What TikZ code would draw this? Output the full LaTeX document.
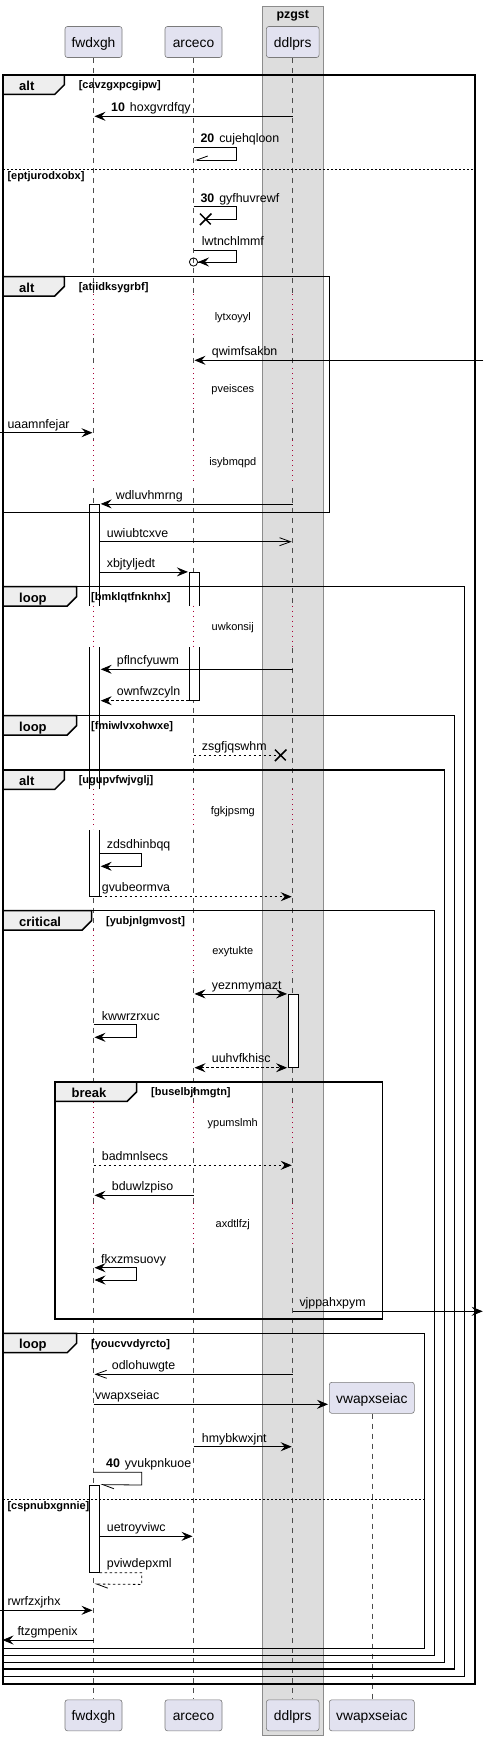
\documentclass[tikz,border=0pt]{standalone}
\usepackage{fontspec}
\setmainfont{Liberation Sans}
\usetikzlibrary{arrows.meta,shapes.misc}

\definecolor{partfill}{HTML}{E2E2F0}
\definecolor{partline}{HTML}{7A7A7A}
\definecolor{boxfill}{HTML}{DDDDDD}
\definecolor{boxline}{HTML}{8C8C8C}
\definecolor{tabfill}{HTML}{EEEEEE}
\definecolor{delayred}{HTML}{A80036}

\begin{document}
\begin{tikzpicture}[x=1pt, y=-1pt, >={Stealth[length=11pt,width=9pt,inset=4pt]}, shorten >=1pt,
    part/.style={draw=partline, fill=partfill, line width=0.6pt, rounded corners=2.5pt,
      minimum width=57pt, minimum height=31pt, inner sep=0pt, text height=13pt, text depth=2pt,
      font=\fontsize{13.8}{16}\selectfont},
    lifeline/.style={draw=black!70, line width=0.5pt, dash pattern=on 5pt off 5pt},
    delayline/.style={draw=delayred, line width=0.8pt, dash pattern=on 1pt off 4pt},
    act/.style={draw, fill=white, line width=0.8pt, minimum width=10pt, inner sep=0pt},
    frm/.style={line width=1.5pt},
    tab/.style={fill=tabfill, line width=1.5pt},
    elseline/.style={line width=0.7pt, dash pattern=on 2pt off 2pt},
    kind/.style={anchor=base west, inner sep=0pt, font=\bfseries\fontsize{13}{15}\selectfont},
    guard/.style={anchor=base west, inner sep=0pt, font=\bfseries\fontsize{11}{13}\selectfont},
    msg/.style={line width=0.8pt},
    reply/.style={msg, dash pattern=on 2.5pt off 2.5pt},
    openhead/.style={-{Straight Barb[length=11pt,width=8pt]}},
    halfup/.style={-{Straight Barb[right,length=11pt,width=8pt]}},
    halfdown/.style={-{Straight Barb[left,length=11pt,width=8pt]}},
    lost/.style={draw, cross out, line width=1.5pt, minimum size=10pt, inner sep=0pt},
    lbl/.style={anchor=base west, inner sep=0pt, font=\fontsize{12.4}{14}\selectfont},
    dly/.style={inner sep=0pt, text height=8pt, text depth=2.2pt, font=\fontsize{11}{13}\selectfont}]
  \useasboundingbox (0,0) rectangle (489,1741);

  % box pzgst
  \draw[draw=boxline, fill=boxfill, line width=0.7pt] (262.3,6.3) rectangle (323.3,1735.7);
  \node[anchor=base, inner sep=0pt, font=\bfseries\fontsize{12.4}{14}\selectfont] (pzgst) at (292.8,18.7) {pzgst};

  % participants
  \node[part] (fwdxgh) at (93.5,42) {fwdxgh};
  \node[part] (arceco) at (193.5,42) {arceco};
  \node[part, minimum width=52.7pt] (ddlprs) at (292.7,42) {ddlprs};
  \node[part] (fwdxghB) at (93.5,1715.3) {fwdxgh};
  \node[part] (arcecoB) at (193.5,1715.3) {arceco};
  \node[part, minimum width=52.7pt] (ddlprsB) at (292.7,1715.3) {ddlprs};
  \node[part, minimum width=85pt] (vwapxseiac) at (371.8,1397.8) {vwapxseiac};
  \node[part, minimum width=85pt] (vwapxseiacB) at (371.8,1715.3) {vwapxseiac};

  \draw[lifeline] (fwdxgh.south) -- (fwdxghB.north);
  \draw[lifeline] (arceco.south) -- (arcecoB.north);
  \draw[lifeline] (ddlprs.south) -- (ddlprsB.north);
  \draw[lifeline] (vwapxseiac.south) -- (vwapxseiacB.north);

  % activations
  \node[act, minimum height=392pt] (actF1) at (94.3,700.3) {};
  \node[act, minimum height=128pt] (actA1) at (194.3,636.3) {};
  \node[act, minimum height=73pt] (actD1) at (293.5,1030.8) {};
  \node[act, minimum height=87.3pt] (actF2) at (94.3,1528.65) {};

  % delays
  \foreach \a/\b/\t/\y in {294/337/lytxoyyl/317.3, 368/410/pveisces/390, 440/483/isybmqpd/462.3,
      605.7/647.3/uwkonsij/627.7, 789/830/fgkjpsmg/811.7, 930.3/972/exytukte/951.7,
      1102/1145/ypumslmh/1123.3, 1203/1246/axdtlfzj/1225} {
    \foreach \p/\c in {fwdxgh/white, arceco/white, ddlprs/boxfill} {
      \fill[\c] (\p |- 0,\a) ++(-6,0) rectangle ++(13,\b-\a);
      \draw[delayline] (\p |- 0,\a) -- (\p |- 0,\b);
    }
    \node[dly] (d\t) at (232.8,\y) {\t};
  }

  % alt cavzgxpcgipw
  \draw[frm] (3,75) rectangle (475,1684);
  \draw[tab] (3,75) -- (64.3,75) -- (64.3,84.8) -- (54.8,94.3) -- (3,94.3) -- cycle;
  \node[kind] (kalt1) at (19,90.5) {alt};
  \node[guard] (galt1) at (78.6,88.7) {[cavzgxpcgipw]};
  \draw[elseline] (3,169.3) -- (475,169.3);
  \node[guard] (ealt1) at (7.3,179.5) {[eptjurodxobx]};
  % alt atiidksygrbf
  \draw[frm] (3,276.7) rectangle (329.7,512.3);
  \draw[tab] (3,276.7) -- (64.3,276.7) -- (64.3,286.5) -- (54.8,296) -- (3,296) -- cycle;
  \node[kind] (kalt2) at (19,292.2) {alt};
  \node[guard] (galt2) at (78.6,290.4) {[atiidksygrbf]};
  % loop bmklqtfnknhx
  \draw[frm] (3,586.7) rectangle (464.3,1676.7);
  \draw[tab] (3,586.7) -- (76.7,586.7) -- (76.7,596.5) -- (67.2,606) -- (3,606) -- cycle;
  \node[kind] (kloop1) at (19,602.2) {loop};
  \node[guard] (gloop1) at (91,600.4) {[bmklqtfnknhx]};
  % loop fmiwlvxohwxe
  \draw[frm] (3,715.7) rectangle (454.3,1669);
  \draw[tab] (3,715.7) -- (76.7,715.7) -- (76.7,725.5) -- (67.2,735) -- (3,735) -- cycle;
  \node[kind] (kloop2) at (19,731.2) {loop};
  \node[guard] (gloop2) at (91,729.4) {[fmiwlvxohwxe]};
  % alt ugupvfwjvglj
  \draw[frm] (3,770) rectangle (444.3,1662.3);
  \draw[tab] (3,770) -- (64.3,770) -- (64.3,779.8) -- (54.8,789.3) -- (3,789.3) -- cycle;
  \node[kind] (kalt3) at (19,785.5) {alt};
  \node[guard] (galt3) at (78.6,783.7) {[ugupvfwjvglj]};
  % critical yubjnlgmvost
  \draw[frm] (3,910.7) rectangle (434.3,1655.7);
  \draw[tab] (3,910.7) -- (91.7,910.7) -- (91.7,920.5) -- (82.2,930) -- (3,930) -- cycle;
  \node[kind] (kcrit) at (19,926.2) {critical};
  \node[guard] (gcrit) at (106,924.4) {[yubjnlgmvost]};
  % break buselbjhmgtn
  \draw[frm] (55,1082) rectangle (382.3,1319);
  \draw[tab] (55,1082) -- (136.7,1082) -- (136.7,1091.8) -- (127.2,1101.3) -- (55,1101.3) -- cycle;
  \node[kind] (kbreak) at (71.5,1097.5) {break};
  \node[guard] (gbreak) at (151,1095.7) {[buselbjhmgtn]};
  % loop youcvvdyrcto
  \draw[frm] (3,1333.3) rectangle (424.3,1648.3);
  \draw[tab] (3,1333.3) -- (76.7,1333.3) -- (76.7,1343.1) -- (67.2,1352.6) -- (3,1352.6) -- cycle;
  \node[kind] (kloop3) at (19,1348.8) {loop};
  \node[guard] (gloop3) at (91,1347) {[youcvvdyrcto]};
  \draw[elseline] (3,1499.3) -- (424.3,1499.3);
  \node[guard] (eloop3) at (7.3,1509.8) {[cspnubxgnnie]};

  % messages
  \draw[msg,->] (ddlprs |- 0,116.3) -- (fwdxgh |- 0,116.3);
  \node[lbl] (l10) at (111,111.6) {\textbf{10}\hspace{5pt}hoxgvrdfqy};
  \draw[msg,halfup] (arceco |- 0,147.3) -- ++(42.8,0) -- ++(0,12.7) -- (arceco |- 0,160);
  \node[lbl] (l20) at (200.3,142.6) {\textbf{20}\hspace{5pt}cujehqloon};
  \node[lost] (x30) at (205.7,219.3) {};
  \draw[msg] (arceco |- 0,206.7) -- ++(42.8,0) -- ++(0,12.6) -- (x30.center);
  \node[lbl] (l30) at (200.3,202) {\textbf{30}\hspace{5pt}gyfhuvrewf};
  \draw[msg, -{Stealth[length=11pt,width=9pt,inset=4pt] Circle[open,length=9pt,width=9pt]}, shorten >=-4.5pt]
    (arceco |- 0,250) -- ++(42.8,0) -- ++(0,12) -- (arceco |- 0,262);
  \node[lbl] (llw) at (201.7,245.3) {lwtnchlmmf};
  \coordinate (qwin) at (483.3,360.3);
  \draw[msg,->] (qwin) -- (arceco |- qwin);
  \node[lbl] (lqw) at (211.7,355.6) {qwimfsakbn};
  \coordinate (uain) at (0,432.7);
  \draw[msg,->] (uain) -- (fwdxgh |- uain);
  \node[lbl] (lua) at (7.3,428) {uaamnfejar};
  \draw[msg,->] (ddlprs |- actF1.north) -- (actF1.north east);
  \node[lbl] (lwd) at (115.7,499.6) {wdluvhmrng};
  \draw[msg,openhead] (actF1.east |- 0,541.7) -- (ddlprs |- 0,541.7);
  \node[lbl] (luw) at (106.7,537) {uwiubtcxve};
  \draw[msg,->] (actF1.east |- actA1.north) -- (actA1.north west);
  \node[lbl] (lxb) at (106.7,567.6) {xbjtyljedt};
  \draw[msg,->] (ddlprs |- 0,669.3) -- (actF1.east |- 0,669.3);
  \node[lbl] (lpf) at (116.7,664.6) {pflncfyuwm};
  \draw[reply,->] (actA1.south west) -- (actF1.east |- actA1.south);
  \node[lbl] (low) at (116.7,695.6) {ownfwzcyln};
  \node[lost] (x2) at (280.7,755.3) {};
  \draw[reply] (arceco |- x2) -- (x2.center);
  \node[lbl] (lzs) at (201.7,750.6) {zsgfjqswhm};
  \draw[msg,->] (actF1.east |- 0,853.3) -- ++(42,0) -- ++(0,13) -- (actF1.east |- 0,866.3);
  \node[lbl] (lzd) at (106.7,848.6) {zdsdhinbqq};
  \draw[reply,->] (actF1.south east) -- (ddlprs |- actF1.south);
  \node[lbl] (lgv) at (101.7,891.6) {gvubeormva};
  \draw[msg,<->, shorten <=1pt] (arceco |- actD1.north) -- (actD1.north west);
  \node[lbl] (lye) at (211.7,989.6) {yeznmymazt};
  \draw[msg,->] (fwdxgh |- 0,1024.7) -- ++(43.2,0) -- ++(0,12.6) -- (fwdxgh |- 0,1037.3);
  \node[lbl] (lkw) at (101.7,1020) {kwwrzrxuc};
  \draw[reply,<->, shorten <=1pt] (arceco |- actD1.south) -- (actD1.south west);
  \node[lbl] (luu) at (211.7,1062.6) {uuhvfkhisc};
  \draw[reply,->] (fwdxgh |- 0,1165.3) -- (ddlprs |- 0,1165.3);
  \node[lbl] (lba) at (101.7,1160.6) {badmnlsecs};
  \draw[msg,->] (arceco |- 0,1195.3) -- (fwdxgh |- 0,1195.3);
  \node[lbl] (lbd) at (111.7,1190.6) {bduwlzpiso};
  \draw[msg,<->, shorten <=1pt] (fwdxgh |- 0,1267.7) -- ++(43.2,0) -- ++(0,12.3) -- (fwdxgh |- 0,1280);
  \node[lbl] (lfk) at (101,1263) {fkxzmsuovy};
  \coordinate (vjout) at (483.7,1311.3);
  \draw[msg,->] (ddlprs |- vjout) -- (vjout);
  \node[lbl] (lvj) at (299.3,1306.6) {vjppahxpym};
  \draw[msg,openhead] (ddlprs |- 0,1374.3) -- (fwdxgh |- 0,1374.3);
  \node[lbl] (lod) at (111.7,1369.6) {odlohuwgte};
  \draw[msg,->] (fwdxgh |- 0,1404.3) -- (vwapxseiac.west |- 0,1404.3);
  \node[lbl] (lvw) at (95,1399.6) {vwapxseiac};
  \draw[msg,->] (arceco |- 0,1446.7) -- (ddlprs |- 0,1446.7);
  \node[lbl] (lhm) at (201.7,1442) {hmybkwxjnt};
  \draw[msg,halfdown] (fwdxgh |- 0,1472.3) -- ++(48.2,0) -- ++(0,12.7) -- (actF2.north east);
  \node[lbl] (l40) at (106,1467.6) {\textbf{40}\hspace{5pt}yvukpnkuoe};
  \draw[msg,->] (actF2.east |- 0,1536.3) -- (arceco |- 0,1536.3);
  \node[lbl] (lue) at (106.7,1531.6) {uetroyviwc};
  \draw[reply,halfdown] (actF2.south east) -- ++(42,0) -- ++(0,11.7) -- (fwdxgh |- 0,1584);
  \node[lbl] (lpv) at (106.7,1567.6) {pviwdepxml};
  \coordinate (rwin) at (0,1610.3);
  \draw[msg,->] (rwin) -- (fwdxgh |- rwin);
  \node[lbl] (lrw) at (7.3,1605.6) {rwrfzxjrhx};
  \coordinate (ftout) at (1.5,1640);
  \draw[msg,->] (fwdxgh |- ftout) -- (ftout);
  \node[lbl] (lft) at (17.3,1635.3) {ftzgmpenix};
\end{tikzpicture}
\end{document}
